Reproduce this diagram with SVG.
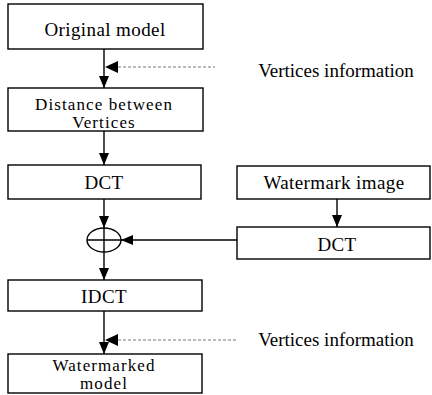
<svg xmlns="http://www.w3.org/2000/svg" width="432" height="395" viewBox="0 0 432 395">
<defs>
<style>
.box{fill:#fff;stroke:#000;stroke-width:1.4}
.t{font-family:"Liberation Serif",serif;font-size:19px;letter-spacing:0.4px;fill:#000;text-anchor:middle}
.t2{font-family:"Liberation Serif",serif;font-size:17px;letter-spacing:1.1px;fill:#000;text-anchor:middle}
.ln{stroke:#000;stroke-width:1.4;fill:none}
.dot{stroke:#777;stroke-width:1;stroke-dasharray:3 2;fill:none}
</style>
<marker id="ah" viewBox="0 0 12 10" refX="12" refY="5" markerWidth="12" markerHeight="10" markerUnits="userSpaceOnUse" orient="auto">
<path d="M0,0 L12,5 L0,10 Z" fill="#000"/>
</marker>
</defs>
<rect width="432" height="395" fill="#fff"/>
<g id="connectors">
<line class="ln" x1="104" y1="49" x2="104" y2="88" marker-end="url(#ah)"/>
<line class="dot" x1="118" y1="67" x2="215" y2="67"/>
<path d="M105,67 L118,61 L118,73 Z" fill="#000"/>
<line class="ln" x1="104" y1="131" x2="104" y2="165" marker-end="url(#ah)"/>
<line class="ln" x1="104" y1="199" x2="104" y2="228" marker-end="url(#ah)"/>
<line class="ln" x1="337" y1="199" x2="337" y2="227" marker-end="url(#ah)"/>
<line class="ln" x1="237" y1="240" x2="121" y2="240" marker-end="url(#ah)"/>
<line class="ln" x1="104" y1="252" x2="104" y2="280" marker-end="url(#ah)"/>
<line class="ln" x1="104" y1="311" x2="104" y2="354" marker-end="url(#ah)"/>
<line class="dot" x1="118" y1="340" x2="237" y2="340"/>
<path d="M105,340 L118,334 L118,346 Z" fill="#000"/>
</g>
<g id="original-model">
<rect class="box" x="8" y="4" width="195" height="45"/>
<text class="t" x="105" y="36">Original model</text>
</g>
<g id="vertices-info-1">
<text class="t" x="336" y="77" style="letter-spacing:0">Vertices information</text>
</g>
<g id="distance">
<rect class="box" x="8" y="88" width="195" height="43"/>
<text class="t2" x="104" y="110">Distance between</text>
<text class="t2" x="104" y="128">Vertices</text>
</g>
<g id="dct-left">
<rect class="box" x="8" y="165" width="193" height="34"/>
<text class="t" x="104" y="189">DCT</text>
</g>
<g id="watermark-image">
<rect class="box" x="237" y="166" width="193" height="33"/>
<text class="t" x="334" y="189">Watermark image</text>
</g>
<g id="dct-right">
<rect class="box" x="237" y="227" width="193" height="32"/>
<text class="t" x="337" y="251">DCT</text>
</g>
<g id="adder">
<ellipse class="ln" cx="104" cy="240" rx="17" ry="12"/>
<line class="ln" x1="87" y1="240" x2="121" y2="240"/>
<line class="ln" x1="104" y1="228" x2="104" y2="252"/>
</g>
<g id="idct">
<rect class="box" x="8" y="280" width="194" height="31"/>
<text class="t" x="104" y="303">IDCT</text>
</g>
<g id="vertices-info-2">
<text class="t" x="336" y="346" style="letter-spacing:0">Vertices information</text>
</g>
<g id="watermarked-model">
<rect class="box" x="8" y="354" width="194" height="39"/>
<text class="t2" x="104" y="371">Watermarked</text>
<text class="t2" x="104" y="389">model</text>
</g>
</svg>
